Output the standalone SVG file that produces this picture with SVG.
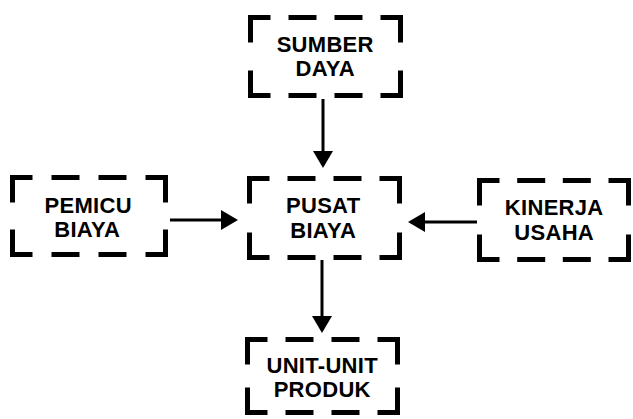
<svg xmlns="http://www.w3.org/2000/svg" width="633" height="419" viewBox="0 0 633 419">
<style>
.box{fill:none;stroke:#000;stroke-width:5;stroke-linecap:butt;stroke-linejoin:miter}
.lbl{font-family:"Liberation Sans",Arial,sans-serif;font-weight:bold;font-size:22px;letter-spacing:0.3px;text-anchor:middle;fill:#000}
.conn{fill:none;stroke:#000;stroke-width:3}
</style>
<defs>
<marker id="ah" markerUnits="userSpaceOnUse" markerWidth="17" markerHeight="20" refX="14" refY="10" orient="auto">
<path d="M0,0 L17,10 L0,20 z" fill="#000"/>
</marker>
</defs>
<rect width="633" height="419" fill="#fff"/>
<g id="sumber-daya">
<path class="box" d="M250.5,42.5 V17.5 H270.5 M380.5,17.5 H400.5 V42.5 M250.5,70.5 V95.5 H270.5 M380.5,95.5 H400.5 V70.5 M288.5,17.5 H316.5 M334.5,17.5 H362.5 M288.5,95.5 H316.5 M334.5,95.5 H362.5"/>
<text class="lbl" x="325.2" y="52">SUMBER</text>
<text class="lbl" x="325.2" y="75.5">DAYA</text>
</g>
<g id="pusat-biaya">
<path class="box" d="M249.5,203.5 V178.5 H269.5 M379.5,178.5 H399.5 V203.5 M249.5,232.5 V257.5 H269.5 M379.5,257.5 H399.5 V232.5 M287.5,178.5 H315.5 M333.5,178.5 H361.5 M287.5,257.5 H315.5 M333.5,257.5 H361.5"/>
<text class="lbl" x="323.2" y="213">PUSAT</text>
<text class="lbl" x="323.2" y="237.5">BIAYA</text>
</g>
<g id="pemicu-biaya">
<path class="box" d="M12.5,202.5 V177.5 H32.5 M145.5,177.5 H165.5 V202.5 M12.5,229.5 V254.5 H32.5 M145.5,254.5 H165.5 V229.5 M51.5,177.5 H79.5 M98.5,177.5 H126.5 M51.5,254.5 H79.5 M98.5,254.5 H126.5"/>
<text class="lbl" x="88.2" y="212.5">PEMICU</text>
<text class="lbl" x="87.2" y="236.5">BIAYA</text>
</g>
<g id="kinerja-usaha">
<path class="box" d="M479.5,205.5 V180.5 H499.5 M608.5,180.5 H628.5 V205.5 M479.5,234.5 V259.5 H499.5 M608.5,259.5 H628.5 V234.5 M517.2,180.5 H545.2 M562.8,180.5 H590.8 M517.2,259.5 H545.2 M562.8,259.5 H590.8"/>
<text class="lbl" x="554.2" y="214.5">KINERJA</text>
<text class="lbl" x="554.2" y="239.5">USAHA</text>
</g>
<g id="unit-unit-produk">
<path class="box" d="M247.5,364.5 V339.5 H267.5 M377.5,339.5 H397.5 V364.5 M247.5,387.5 V412.5 H267.5 M377.5,412.5 H397.5 V387.5 M285.5,339.5 H313.5 M331.5,339.5 H359.5 M285.5,412.5 H313.5 M331.5,412.5 H359.5"/>
<text class="lbl" x="322.2" y="372.5">UNIT-UNIT</text>
<text class="lbl" x="322.2" y="397">PRODUK</text>
</g>
<g id="connectors">
<path class="conn" d="M323,99 V165" marker-end="url(#ah)"/>
<path class="conn" d="M170,220 H235" marker-end="url(#ah)"/>
<path class="conn" d="M477,222 H411" marker-end="url(#ah)"/>
<path class="conn" d="M322,260 V330" marker-end="url(#ah)"/>
</g>
</svg>
